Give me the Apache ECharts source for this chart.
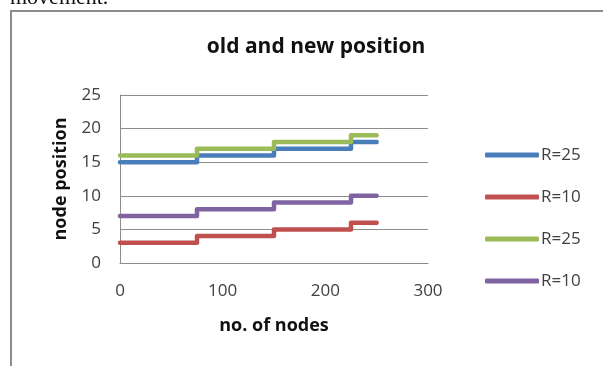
<!DOCTYPE html>
<html>
<head>
<meta charset="utf-8">
<script src="https://cdn.jsdelivr.net/npm/echarts@6/dist/echarts.min.js"></script>
<style>
  html, body { margin: 0; padding: 0; background: #fff; }
  #chart { width: 603px; height: 366px; }
</style>
</head>
<body>
<div id="chart"></div>
<script>
// Number of nodes at which each position level starts
const nodes = [0, 75, 150, 225, 250];

// Node positions per radius
const oldR25 = [15, 16, 17, 18, 18];
const oldR10 = [3, 4, 5, 6, 6];
const newR25 = [16, 17, 18, 19, 19];
const newR10 = [7, 8, 9, 10, 10];

// Legend labels (trailing space keeps the repeated labels as separate entries)
const seriesNames = ['R=25', 'R=10', 'R=25 ', 'R=10 '];
const seriesColors = ['#4a7ebb', '#c0504d', '#9bbb59', '#8064a2'];
const seriesValues = [oldR25, oldR10, newR25, newR10];

const yTicks = { min: 0, max: 25, interval: 5 };
const xTicks = { min: 0, max: 300, interval: 100 };

const FONT = '"Open Sans", "Liberation Sans", sans-serif';

const chart = echarts.init(document.getElementById('chart'), null, { renderer: 'canvas' });

const series = seriesValues.map((vals, i) => ({
  name: seriesNames[i],
  type: 'line',
  step: 'end',
  symbol: 'none',
  color: seriesColors[i],
  lineStyle: { width: 4.5, color: seriesColors[i], cap: 'round', join: 'round' },
  data: nodes.map((n, k) => [n, vals[k]])
}));

chart.setOption({
  animation: false,
  backgroundColor: '#fff',
  title: {
    text: 'old and new position',
    left: 311,
    textAlign: 'center',
    top: 32,
    textStyle: { fontFamily: FONT, fontSize: 21, fontWeight: 'bold', color: '#111' }
  },
  graphic: [
    {
      type: 'text',
      left: 10,
      top: -13,
      style: { text: 'movement.', font: '22px "Liberation Serif", serif', fill: '#111' }
    },
    {
      type: 'polyline',
      shape: { points: [[11, 366], [11, 11], [603, 11]] },
      style: { stroke: '#8c8c8c', lineWidth: 2, fill: null }
    }
  ],
  legend: {
    orient: 'vertical',
    left: 485,
    top: 146,
    padding: 0,
    itemWidth: 54,
    itemHeight: 5,
    itemGap: 24,
    icon: 'roundRect',
    data: seriesNames,
    textStyle: { fontFamily: FONT, fontSize: 17, color: '#404040', lineHeight: 18, padding: [0, 0, 0, -3] }
  },
  grid: { left: 120, right: 175, top: 95, bottom: 103, containLabel: false },
  xAxis: {
    type: 'value',
    min: xTicks.min, max: xTicks.max, interval: xTicks.interval,
    name: 'no. of nodes',
    nameLocation: 'middle',
    nameGap: 54,
    nameTextStyle: { fontFamily: FONT, fontSize: 18, fontWeight: 'bold', color: '#111' },
    axisLine: { show: true, lineStyle: { color: '#8c8c8c', width: 1 } },
    axisTick: { show: false },
    splitLine: { show: false },
    axisLabel: { fontFamily: FONT, fontSize: 17, color: '#404040', margin: 20 }
  },
  yAxis: {
    type: 'value',
    min: yTicks.min, max: yTicks.max, interval: yTicks.interval,
    name: 'node position',
    nameLocation: 'middle',
    nameGap: 50,
    nameTextStyle: { fontFamily: FONT, fontSize: 18, fontWeight: 'bold', color: '#111' },
    axisLine: { show: true, lineStyle: { color: '#8c8c8c', width: 1 } },
    axisTick: { show: false },
    splitLine: { show: true, lineStyle: { color: '#8c8c8c', width: 1 } },
    axisLabel: { fontFamily: FONT, fontSize: 17, color: '#404040', margin: 19 }
  },
  series: series
});
</script>
</body>
</html>
